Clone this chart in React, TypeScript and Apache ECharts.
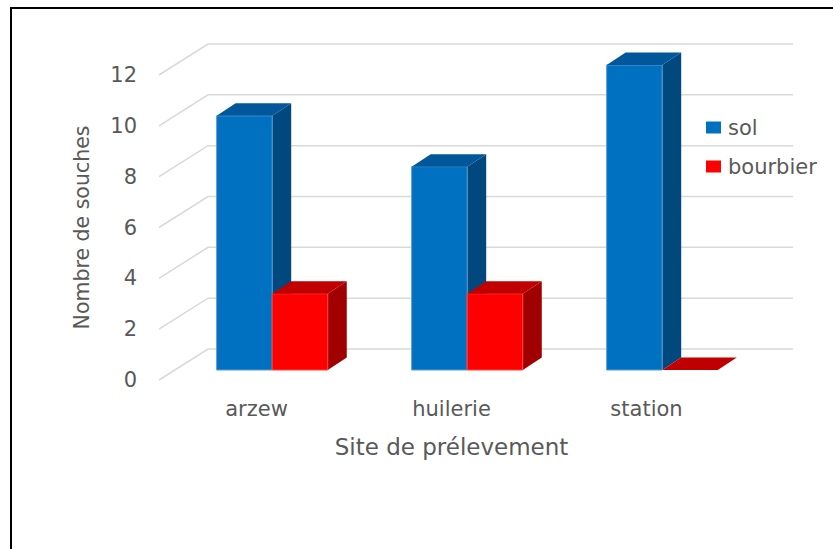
import React, { useEffect, useRef } from "react";
import * as echarts from "echarts";

const categories = ["arzew", "huilerie", "station"];
const solValues = [10, 8, 12];
const bourbierValues = [3, 3, 0];
const yTicks = [0, 2, 4, 6, 8, 10, 12];

const FONT = "DejaVu Sans";
const TEXT = "#595959";
const FLOOR = [49, -31];
const OFF = [15.7, -10];
const DEPTH = [19, -12.5];
const BAR_FRAC = 0.285;

function makeBar(side: number, front: string, top: string, right: string, edge: string) {
  return (params: any, api: any) => {
    const cat = api.value(0);
    const v = api.value(1);
    const base = api.coord([cat, 0]);
    const tip = api.coord([cat, v]);
    const band = api.size([1, 0])[0];
    const w = band * BAR_FRAC;
    const x0 = base[0] + (side === 0 ? -w : 0) + OFF[0];
    const x1 = x0 + w;
    const yb = base[1] + OFF[1];
    const yt = tip[1] + OFF[1];
    const [dx, dy] = DEPTH;
    const children: any[] = [];
    if (yb - yt > 0.5) {
      children.push({
        type: "polygon",
        shape: { points: [[x1, yb], [x1 + dx, yb + dy], [x1 + dx, yt + dy], [x1, yt]] },
        style: { fill: right },
      });
      children.push({
        type: "polygon",
        shape: { points: [[x0, yb], [x1, yb], [x1, yt], [x0, yt]] },
        style: { fill: front, stroke: edge, lineWidth: 1 },
      });
    }
    children.push({
      type: "polygon",
      shape: { points: [[x0, yt], [x1, yt], [x1 + dx, yt + dy], [x0 + dx, yt + dy]] },
      style: { fill: top },
    });
    return { type: "group", children };
  };
}

export default function App() {
  const ref = useRef<HTMLDivElement>(null);
  useEffect(() => {
    if (!ref.current) return;
    const chart = echarts.init(ref.current, null, { renderer: "svg" });
    chart.setOption({
      animation: false,
      backgroundColor: "#ffffff",
      graphic: [
        {
          type: "rect",
          silent: true,
          z: 0,
          shape: { x: 11, y: 8, width: 840, height: 560 },
          style: { fill: "none", stroke: "#000", lineWidth: 2 },
        },
      ],
      grid: { left: 159, right: 89, top: 75, bottom: 169, containLabel: false },
      legend: {
        orient: "vertical",
        left: 706,
        top: 117,
        padding: 0,
        itemWidth: 15,
        itemHeight: 12,
        itemGap: 18,
        icon: "rect",
        textStyle: { fontFamily: FONT, fontSize: 21, color: TEXT, lineHeight: 21, padding: [0, 0, 0, 2] },
        data: [
          { name: "sol", itemStyle: { color: "#0070C0" } },
          { name: "bourbier", itemStyle: { color: "#FF0000" } },
        ],
      },
      xAxis: {
        type: "category",
        data: categories,
        boundaryGap: true,
        axisLine: { show: false },
        axisTick: { show: false },
        axisLabel: { margin: 18, fontFamily: FONT, fontSize: 21, color: TEXT },
        name: "Site de prélevement",
        nameLocation: "middle",
        nameGap: 55,
        nameTextStyle: { fontFamily: FONT, fontSize: 23, color: TEXT },
      },
      yAxis: {
        type: "value",
        min: 0,
        max: 12,
        interval: 2,
        axisLine: { show: false },
        axisTick: { show: false },
        splitLine: { show: false },
        axisLabel: { margin: 22, fontFamily: FONT, fontSize: 21, color: TEXT },
        name: "Nombre de souches",
        nameLocation: "middle",
        nameRotate: 90,
        nameGap: 67,
        nameTextStyle: { fontFamily: FONT, fontSize: 20.5, color: TEXT },
      },
      series: [
        {
          type: "custom",
          name: "grid3d",
          z: 1,
          silent: true,
          data: yTicks.map((v) => [0, v]),
          renderItem: (params: any, api: any) => {
            const cs = params.coordSys;
            const y = api.coord([0, api.value(1)])[1];
            const left = cs.x;
            const right = cs.x + cs.width;
            return {
              type: "polyline",
              shape: {
                points: [
                  [left, y],
                  [left + FLOOR[0], y + FLOOR[1]],
                  [right + FLOOR[0], y + FLOOR[1]],
                ],
              },
              style: { stroke: "#D9D9D9", lineWidth: 1.5, fill: "none" },
            };
          },
        },
        {
          type: "custom",
          name: "sol",
          z: 2,
          itemStyle: { color: "#0070C0" },
          data: solValues.map((v, i) => [i, v]),
          renderItem: makeBar(0, "#0070C0", "#00579A", "#00487E", "#5B9BD5"),
        },
        {
          type: "custom",
          name: "bourbier",
          z: 3,
          itemStyle: { color: "#FF0000" },
          data: bourbierValues.map((v, i) => [i, v]),
          renderItem: makeBar(1, "#FF0000", "#C00000", "#A00000", "#FF4040"),
        },
      ],
    });
    return () => chart.dispose();
  }, []);
  return (
    <div
      ref={ref}
      style={{ position: "fixed", left: 0, top: 0, width: 833, height: 549 }}
    />
  );
}
